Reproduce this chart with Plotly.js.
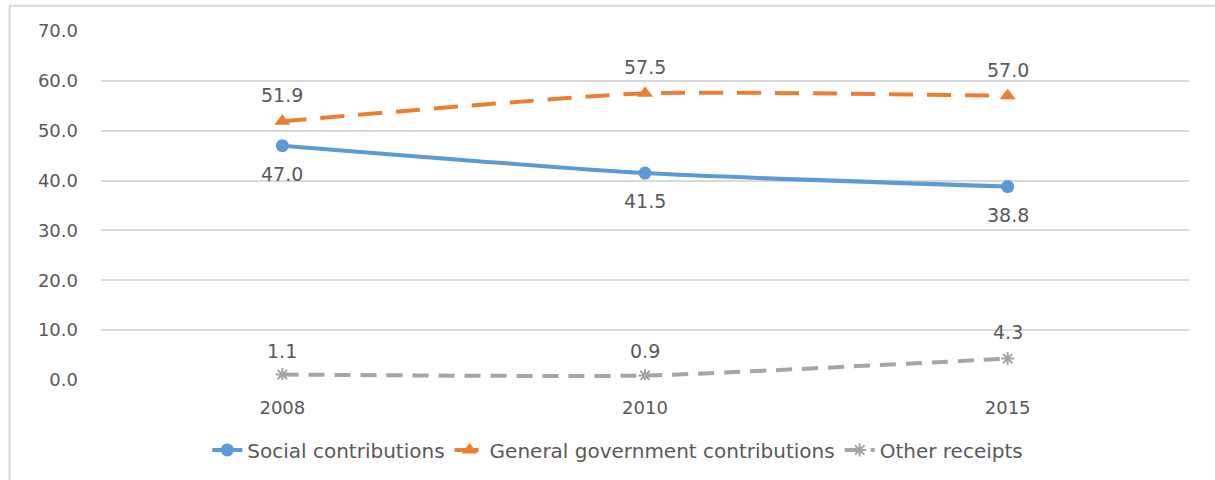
<!DOCTYPE html>
<html>
<head>
<meta charset="utf-8">
<script src="https://cdn.plot.ly/plotly-3.0.1.min.js"></script>
<style>
  html, body { margin: 0; padding: 0; background: #fff; }
  #chart { width: 1215px; height: 480px; }
</style>
</head>
<body>
<div id="chart"></div>
<script>
// Financing of social protection receipts, % of total
const years = ['2008', '2010', '2015'];
const socialContributions = [47.0, 41.5, 38.8];
const governmentContributions = [51.9, 57.5, 57.0];
const otherReceipts = [1.1, 0.9, 4.3];
const yTicks = [0, 10, 20, 30, 40, 50, 60, 70];

const BLUE = '#5B9BD5';
const ORANGE = '#ED7D31';
const GREY = '#A5A5A5';
const TEXT = '#595959';
const FONT = 'DejaVu Sans, Verdana, sans-serif';

const traces = [
  {
    x: years, y: socialContributions, name: 'Social contributions',
    type: 'scatter', mode: 'lines+markers',
    line: { color: BLUE, width: 4, shape: 'spline', smoothing: 0.6 },
    marker: { symbol: 'circle', size: 13, color: BLUE }
  },
  {
    x: years, y: governmentContributions, name: 'General government contributions',
    type: 'scatter', mode: 'lines+markers',
    line: { color: ORANGE, width: 4, shape: 'spline', smoothing: 0.5, dash: '24px,14px' },
    marker: { symbol: 'triangle-up', size: 14, color: ORANGE }
  },
  {
    x: years, y: otherReceipts, name: 'Other receipts',
    type: 'scatter', mode: 'lines+markers',
    line: { color: GREY, width: 4, shape: 'spline', smoothing: 0.5, dash: '16px,10px' },
    marker: { symbol: 'asterisk-open', size: 11, color: GREY, line: { color: GREY, width: 2 } }
  }
];

// value labels: offset above (+) or below (-) each point, in pixels
function labels(values, shifts) {
  return values.map((v, i) => ({
    x: i, y: v, xref: 'x', yref: 'y',
    text: v.toFixed(1), showarrow: false, yshift: shifts[i],
    font: { family: FONT, size: 19, color: TEXT }
  }));
}

const annotations = [].concat(
  labels(socialContributions, [-28, -28, -28]),
  labels(governmentContributions, [26, 26, 26]),
  labels(otherReceipts, [24, 25, 27])
);

const layout = {
  width: 1215, height: 480,
  margin: { l: 101, r: 26, t: 31, b: 99 },
  paper_bgcolor: '#fff', plot_bgcolor: '#fff',
  font: { family: FONT, size: 18, color: TEXT },
  showlegend: true,
  legend: {
    orientation: 'h', x: 0.475, xanchor: 'center', y: -0.197, yanchor: 'middle',
    font: { family: FONT, size: 20, color: TEXT }
  },
  xaxis: {
    type: 'category', range: [-0.5, 2.5],
    showgrid: false, zeroline: false, showline: false,
    ticks: '', ticklabelstandoff: 15,
    tickfont: { family: FONT, size: 18, color: TEXT }
  },
  yaxis: {
    range: [0, 70], tickvals: yTicks, ticktext: yTicks.map(v => v.toFixed(1)),
    showgrid: true, gridcolor: '#D9D9D9', gridwidth: 2,
    zeroline: false, showline: false, ticks: '', ticklabelstandoff: 22,
    tickfont: { family: FONT, size: 18, color: TEXT }
  },
  annotations: annotations,
  shapes: [
    {
      type: 'rect', xref: 'paper', yref: 'paper',
      x0: -0.084, x1: 1.2, y0: -0.5, y1: 1.072,
      line: { color: '#D9D9D9', width: 2 }, fillcolor: 'rgba(0,0,0,0)'
    }
  ]
};

Plotly.newPlot('chart', traces, layout, { displayModeBar: false, staticPlot: true });
</script>
</body>
</html>
